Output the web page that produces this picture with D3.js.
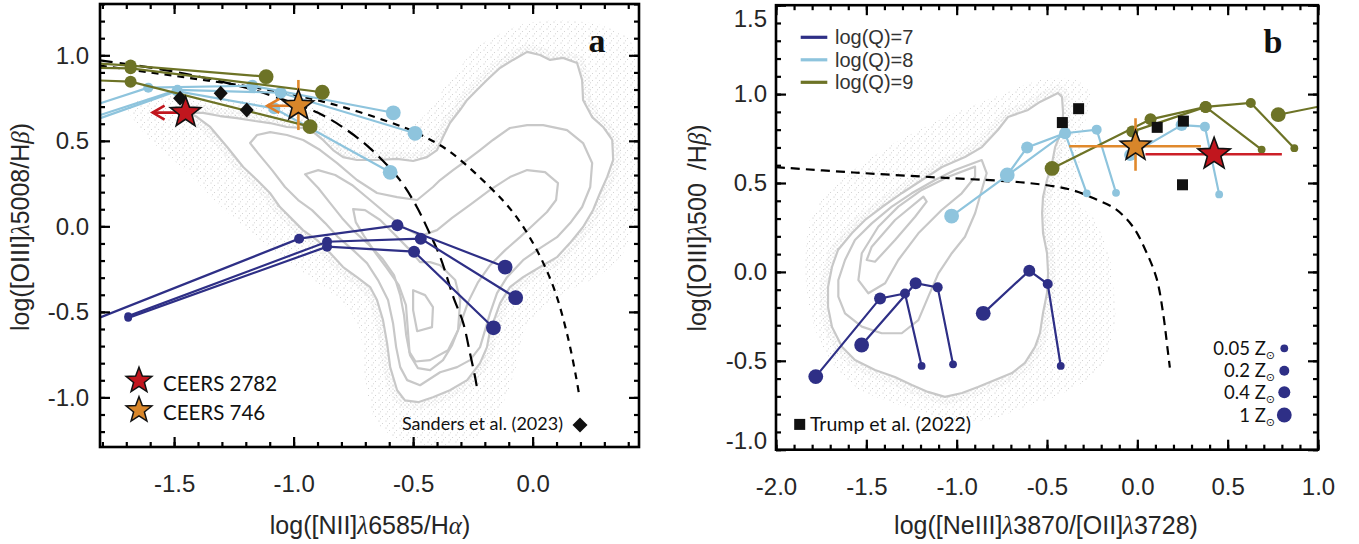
<!DOCTYPE html>
<html>
<head>
<meta charset="utf-8">
<script src="https://cdn.jsdelivr.net/npm/d3@7/dist/d3.min.js"></script>
<style>
html,body{margin:0;padding:0;background:#fff;}
svg{display:block;}
</style>
</head>
<body>
<svg id="chart" width="1359" height="544"></svg>
<script>
// ======================= DATA =======================
// ---- panel a : BPT diagram ----
const bptXTicks = [-1.5, -1.0, -0.5, 0.0];
const bptXTickLabels = ["-1.5", "-1.0", "-0.5", "0.0"];
const bptYTicks = [-1.0, -0.5, 0.0, 0.5, 1.0];
const bptYTickLabels = ["-1.0", "-0.5", "0.0", "0.5", "1.0"];

// model grids: [x, y, metallicity index (0:0.05,1:0.2,2:0.4,3:1 Zsun)]
const bptQ7 = [
  [[-1.95,-0.61,0],[-0.977,-0.072,1],[-0.566,0.006,2],[-0.115,-0.238,3]],
  [[-1.692,-0.525,0],[-0.86,-0.09,1],[-0.468,-0.072,2],[-0.071,-0.417,3]],
  [[-1.692,-0.535,0],[-0.86,-0.119,1],[-0.496,-0.148,2],[-0.164,-0.593,3]]
];
const bptQ8 = [
  [[-1.95,0.655,0],[-1.608,0.811,1],[-1.173,0.822,2],[-0.583,0.664,3]],
  [[-1.95,0.587,0],[-1.486,0.798,1],[-1.054,0.781,2],[-0.492,0.544,3]],
  [[-1.95,0.563,0],[-1.49,0.79,1],[-1.081,0.690,2],[-0.596,0.316,3]]
];
const bptQ9 = [
  [[-1.95,0.965,1],[-1.682,0.94,2],[-1.115,0.875,3]],
  [[-1.95,0.93,1],[-1.682,0.924,2],[-0.880,0.784,3]],
  [[-1.95,0.86,1],[-1.682,0.846,2],[-0.931,0.583,3]]
];
const bptSanders = [[-1.475,0.749],[-1.305,0.778],[-1.196,0.680]];
const bptStars = [[-1.452,0.665],[-0.98,0.705]];          // CEERS 2782, CEERS 746
const bptUpperLimitX = [-1.59, -1.11];                       // arrow tips
const bptYErr746 = [0.563, 0.856];
const bptKauffmann = [[-1.81,0.97],[-1.5,0.905],[-1.2,0.81],[-1.0,0.72],[-0.9,0.665],[-0.8,0.585],[-0.68,0.456],[-0.555,0.27],[-0.485,0.115],[-0.437,-0.022],[-0.387,-0.178],[-0.332,-0.412],[-0.29,-0.567],[-0.262,-0.743],[-0.241,-0.879],[-0.231,-0.957]];
const bptKewley = [[-1.81,0.94],[-1.6,0.90],[-1.4,0.86],[-1.2,0.82],[-1.0,0.77],[-0.8,0.70],[-0.6,0.61],[-0.475,0.54],[-0.35,0.44],[-0.183,0.235],[-0.073,0.065],[0.018,-0.14],[0.091,-0.37],[0.146,-0.64],[0.183,-0.89],[0.195,-0.99]];
const bptCloud = [[-1.693,0.680],[-1.643,0.738],[-1.517,0.768],[-1.266,0.738],[-0.973,0.709],[-0.722,0.622],[-0.554,0.563],[-0.450,0.651],[-0.346,0.856],[-0.220,1.060],[-0.053,1.177],[0.115,1.206],[0.282,1.177],[0.408,1.089],[0.441,0.856],[0.441,0.154],[0.387,-0.138],[0.282,-0.285],[0.156,-0.373],[0.052,-0.461],[-0.032,-0.607],[-0.073,-0.841],[-0.136,-1.075],[-0.220,-1.221],[-0.388,-1.280],[-0.555,-1.250],[-0.659,-1.133],[-0.701,-0.899],[-0.722,-0.607],[-0.806,-0.431],[-0.973,-0.256],[-1.140,-0.081],[-1.308,0.124],[-1.454,0.329],[-1.600,0.505]];
const bptContour1 = [[-1.433,0.663],[-1.379,0.663],[-1.308,0.645],[-1.237,0.633],[-1.162,0.616],[-1.099,0.604],[-1.028,0.581],[-0.961,0.575],[-0.919,0.552],[-0.877,0.505],[-0.835,0.446],[-0.793,0.405],[-0.735,0.388],[-0.651,0.388],[-0.567,0.394],[-0.500,0.382],[-0.442,0.405],[-0.400,0.446],[-0.375,0.522],[-0.346,0.604],[-0.304,0.680],[-0.274,0.739],[-0.233,0.797],[-0.191,0.856],[-0.137,0.926],[-0.082,0.973],[-0.023,1.020],[0.031,1.002],[0.073,0.973],[0.127,0.985],[0.186,0.955],[0.207,0.856],[0.211,0.739],[0.249,0.639],[0.295,0.581],[0.333,0.505],[0.337,0.388],[0.312,0.289],[0.282,0.195],[0.253,0.096],[0.211,-0.004],[0.156,-0.098],[0.102,-0.180],[0.031,-0.238],[-0.040,-0.297],[-0.095,-0.355],[-0.136,-0.449],[-0.157,-0.531],[-0.178,-0.607],[-0.191,-0.706],[-0.220,-0.800],[-0.274,-0.899],[-0.346,-0.958],[-0.417,-0.999],[-0.479,-1.028],[-0.534,-1.017],[-0.567,-0.958],[-0.596,-0.823],[-0.609,-0.683],[-0.626,-0.548],[-0.651,-0.431],[-0.680,-0.355],[-0.735,-0.297],[-0.793,-0.238],[-0.847,-0.156],[-0.902,-0.080],[-0.961,-0.022],[-1.015,0.054],[-1.057,0.113],[-1.099,0.195],[-1.153,0.271],[-1.211,0.347],[-1.278,0.464],[-1.349,0.581],[-1.404,0.639]];
const bptContour2 = [[-1.182,0.487],[-1.153,0.534],[-1.098,0.551],[-1.028,0.534],[-0.960,0.505],[-0.889,0.446],[-0.818,0.370],[-0.735,0.271],[-0.651,0.195],[-0.567,0.171],[-0.483,0.154],[-0.417,0.230],[-0.387,0.271],[-0.333,0.329],[-0.274,0.388],[-0.220,0.446],[-0.166,0.505],[-0.095,0.575],[-0.023,0.592],[0.044,0.592],[0.144,0.563],[0.211,0.487],[0.249,0.370],[0.241,0.230],[0.207,0.113],[0.157,0.019],[0.102,-0.063],[0.031,-0.127],[-0.040,-0.198],[-0.107,-0.297],[-0.149,-0.390],[-0.178,-0.507],[-0.199,-0.607],[-0.220,-0.706],[-0.262,-0.782],[-0.316,-0.823],[-0.387,-0.853],[-0.471,-0.929],[-0.525,-0.899],[-0.554,-0.823],[-0.571,-0.706],[-0.584,-0.566],[-0.605,-0.431],[-0.647,-0.314],[-0.693,-0.215],[-0.751,-0.139],[-0.814,-0.063],[-0.868,0.019],[-0.923,0.095],[-0.981,0.154],[-1.036,0.230],[-1.090,0.329],[-1.149,0.428]];
const bptContour3 = [[-0.952,0.305],[-0.897,0.329],[-0.826,0.300],[-0.756,0.242],[-0.680,0.154],[-0.605,0.066],[-0.534,-0.010],[-0.471,-0.057],[-0.400,-0.022],[-0.337,0.049],[-0.262,0.125],[-0.178,0.213],[-0.095,0.288],[-0.023,0.329],[0.052,0.317],[0.106,0.253],[0.098,0.154],[0.060,0.084],[0.002,0.008],[-0.053,-0.063],[-0.115,-0.139],[-0.178,-0.227],[-0.228,-0.326],[-0.270,-0.443],[-0.304,-0.577],[-0.337,-0.694],[-0.375,-0.782],[-0.429,-0.841],[-0.480,-0.829],[-0.513,-0.753],[-0.529,-0.636],[-0.538,-0.519],[-0.554,-0.402],[-0.580,-0.285],[-0.630,-0.186],[-0.684,-0.109],[-0.743,-0.034],[-0.797,0.048],[-0.847,0.136],[-0.897,0.224]];
const bptContour4 = [[-0.751,0.101],[-0.701,0.095],[-0.638,0.037],[-0.575,-0.051],[-0.513,-0.139],[-0.471,-0.209],[-0.429,-0.209],[-0.387,-0.227],[-0.324,-0.314],[-0.303,-0.431],[-0.312,-0.607],[-0.354,-0.724],[-0.429,-0.782],[-0.490,-0.790],[-0.515,-0.735],[-0.522,-0.607],[-0.530,-0.461],[-0.560,-0.344],[-0.610,-0.244],[-0.660,-0.151],[-0.705,-0.057],[-0.740,0.025]];
const bptContour5 = [[-0.500,-0.373],[-0.450,-0.402],[-0.417,-0.472],[-0.421,-0.589],[-0.483,-0.613],[-0.500,-0.490]];

// ---- panel b : OHNO diagram ----
const o3XTicks = [-2.0, -1.5, -1.0, -0.5, 0.0, 0.5, 1.0];
const o3XTickLabels = ["-2.0", "-1.5", "-1.0", "-0.5", "0.0", "0.5", "1.0"];
const o3YTicks = [-1.0, -0.5, 0.0, 0.5, 1.0, 1.5];
const o3YTickLabels = ["-1.0", "-0.5", "0.0", "0.5", "1.0", "1.5"];
const o3Q7 = [
  [[-1.780,-0.589,3],[-1.424,-0.149,2],[-1.286,-0.121,1],[-1.194,-0.529,0]],
  [[-1.526,-0.411,3],[-1.227,-0.064,2],[-1.105,-0.087,1],[-1.020,-0.520,0]],
  [[-0.853,-0.233,3],[-0.598,0.007,2],[-0.496,-0.068,1],[-0.424,-0.529,0]]
];
const o3Q8 = [
  [[-1.028,0.314,3],[-0.40,0.78,2],[-0.225,0.80,1],[-0.118,0.445,0]],
  [[-0.72,0.545,3],[-0.61,0.70,2],[-0.40,0.78,1],[-0.28,0.442,0]],
  [[-0.04,0.657,2],[0.245,0.826,2],[0.374,0.817,1],[0.453,0.436,0]]
];
const o3Q9 = [
  [[-0.472,0.582,3],[0.073,0.858,2],[0.378,0.928,2],[0.688,0.688,0]],
  [[-0.028,0.789,2],[0.378,0.928,2],[0.628,0.95,1],[0.869,0.696,0]],
  [[0.78,0.884,3],[1.3,0.99,2]]
];
const o3Trump = [[-0.415,0.84],[-0.325,0.918],[0.11,0.813],[0.255,0.848],[0.25,0.49]];
const o3Stars = [[0.425,0.662],[-0.01,0.707]];              // CEERS 2782, CEERS 746
const o3XErr2782 = [0.045, 0.80];
const o3XErr746 = [-0.377, 0.352];
const o3YErr746 = [0.569, 0.864];
const o3Demarc = [[-2.0,0.589],[-1.57,0.559],[-1.086,0.530],[-0.604,0.50],[-0.363,0.461],[-0.218,0.403],[-0.121,0.354],[-0.025,0.255],[0.047,0.118],[0.107,-0.038],[0.143,-0.235],[0.167,-0.43],[0.18,-0.538]];
const o3Cloud = [[-0.345,1.079],[-0.262,0.995],[-0.306,0.742],[-0.328,0.404],[-0.234,0.292],[-0.151,0.067],[-0.123,-0.270],[-0.206,-0.551],[-0.428,-0.692],[-0.594,-0.748],[-0.815,-0.832],[-1.037,-0.832],[-1.313,-0.748],[-1.535,-0.664],[-1.701,-0.495],[-1.800,-0.270],[-1.839,0.011],[-1.812,0.292],[-1.701,0.461],[-1.535,0.601],[-1.313,0.742],[-1.037,0.882],[-0.760,0.995],[-0.539,1.079]];
const o3Contour1 = [[-0.439,1.006],[-0.539,0.956],[-0.605,0.911],[-0.716,0.871],[-0.772,0.798],[-0.860,0.702],[-0.954,0.646],[-1.081,0.590],[-1.192,0.517],[-1.302,0.444],[-1.413,0.365],[-1.507,0.292],[-1.579,0.219],[-1.657,0.123],[-1.690,0.028],[-1.712,-0.085],[-1.712,-0.197],[-1.690,-0.310],[-1.634,-0.422],[-1.563,-0.495],[-1.452,-0.552],[-1.342,-0.591],[-1.248,-0.636],[-1.159,-0.675],[-1.065,-0.703],[-0.970,-0.681],[-0.882,-0.647],[-0.788,-0.608],[-0.694,-0.569],[-0.622,-0.512],[-0.566,-0.422],[-0.539,-0.344],[-0.522,-0.231],[-0.500,-0.119],[-0.494,-0.006],[-0.500,0.106],[-0.522,0.219],[-0.527,0.331],[-0.522,0.421],[-0.500,0.517],[-0.472,0.612],[-0.455,0.702],[-0.417,0.798],[-0.411,0.894],[-0.417,0.984]];
const o3Contour2 = [[-0.861,0.629],[-1.009,0.573],[-1.120,0.517],[-1.249,0.442],[-1.359,0.367],[-1.470,0.273],[-1.563,0.179],[-1.618,0.067],[-1.655,-0.046],[-1.655,-0.139],[-1.618,-0.233],[-1.525,-0.308],[-1.415,-0.345],[-1.304,-0.345],[-1.212,-0.271],[-1.157,-0.139],[-1.101,-0.008],[-1.027,0.105],[-0.954,0.198],[-0.898,0.330],[-0.861,0.461],[-0.834,0.555]];
const o3Contour3 = [[-0.898,0.592],[-1.046,0.535],[-1.193,0.461],[-1.323,0.367],[-1.434,0.254],[-1.525,0.105],[-1.544,-0.046],[-1.489,-0.120],[-1.396,-0.064],[-1.323,0.067],[-1.212,0.217],[-1.083,0.348],[-0.972,0.442],[-0.898,0.535]];
const o3Contour4 = [[-1.184,0.423],[-1.341,0.292],[-1.470,0.142],[-1.498,0.067],[-1.452,0.057],[-1.341,0.179],[-1.230,0.310],[-1.166,0.395]];

// legends
const qLegendLabels = ["log(Q)=7", "log(Q)=8", "log(Q)=9"];
const zLegendLabels = ["0.05 Z", "0.2 Z", "0.4 Z", "1 Z"];
const starLegendLabels = ["CEERS 2782", "CEERS 746"];

// ======================= STYLE =======================
const C_NAVY = "#2e2f86", C_CYAN = "#8ec4dd", C_OLIVE = "#6d7326";
const C_RED = "#c1161e", C_ORANGE = "#d8862a", C_ORANGE_BAR = "#e0892c", C_RED_BAR = "#cc1f27";
const C_CONT = "#c8c8c8";
const zR = [3.9, 5.0, 6.0, 7.4];

const svg = d3.select("#chart");
const defs = svg.append("defs");
const pS = defs.append("pattern").attr("id","dotS").attr("width",7).attr("height",7).attr("patternUnits","userSpaceOnUse");
pS.append("circle").attr("cx",1).attr("cy",1).attr("r",0.55).attr("fill","#bdbdbd");
pS.append("circle").attr("cx",4.5).attr("cy",3.5).attr("r",0.5).attr("fill","#c6c6c6");
pS.append("circle").attr("cx",2.5).attr("cy",5.8).attr("r",0.5).attr("fill","#c8c8c8");
const pD = defs.append("pattern").attr("id","dotD").attr("width",4).attr("height",4).attr("patternUnits","userSpaceOnUse");
pD.append("circle").attr("cx",1).attr("cy",1).attr("r",0.55).attr("fill","#bcbcbc");
pD.append("circle").attr("cx",3).attr("cy",3).attr("r",0.5).attr("fill","#c8c8c8");

function starPath(R, ratio) {
  const pts = [];
  for (let k = 0; k < 10; k++) {
    const a = -Math.PI/2 + k*Math.PI/5, r = (k % 2) ? R*ratio : R;
    pts.push([r*Math.cos(a), r*Math.sin(a)]);
  }
  return "M" + pts.map(p => p[0].toFixed(2)+","+p[1].toFixed(2)).join("L") + "Z";
}

function makePanel(id, xDomain, xRange, yDomain, yRange) {
  const x = d3.scaleLinear().domain(xDomain).range(xRange);
  const y = d3.scaleLinear().domain(yDomain).range(yRange);
  defs.append("clipPath").attr("id", id+"clip").append("rect")
    .attr("x", xRange[0]).attr("y", yRange[1]).attr("width", xRange[1]-xRange[0]).attr("height", yRange[0]-yRange[1]);
  const g = svg.append("g");
  const plot = g.append("g").attr("clip-path", `url(#${id}clip)`);
  return {x, y, g, plot};
}

function drawCloud(P, cloud, contours) {
  const {x, y, plot} = P;
  const closed = d3.line().x(d=>x(d[0])).y(d=>y(d[1])).curve(d3.curveCardinalClosed.tension(0.3));
  const closedL = d3.line().x(d=>x(d[0])).y(d=>y(d[1])).curve(d3.curveLinearClosed);
  plot.append("path").attr("d", closed(cloud)).attr("fill","url(#dotS)");
  plot.append("path").attr("d", closedL(contours[0])).attr("fill","none").attr("stroke","url(#dotD)").attr("stroke-width",16).attr("stroke-linejoin","round");
  plot.append("path").attr("d", closedL(contours[0])).attr("fill","#fff");
  contours.forEach(c => plot.append("path").attr("d", closedL(c)).attr("fill","none")
    .attr("stroke", C_CONT).attr("stroke-width", 2.2).attr("stroke-linejoin","round"));
}

function drawDashed(P, pts, dash) {
  const {x, y, plot} = P;
  const l = d3.line().x(d=>x(d[0])).y(d=>y(d[1])).curve(d3.curveCatmullRom);
  plot.append("path").attr("d", l(pts)).attr("fill","none").attr("stroke","#000")
    .attr("stroke-width", 2.2).attr("stroke-dasharray", dash);
}

function drawModels(P, lines, color) {
  const {x, y, plot} = P;
  const l = d3.line().x(d=>x(d[0])).y(d=>y(d[1]));
  const g = plot.append("g");
  lines.forEach(ln => {
    g.append("path").attr("d", l(ln)).attr("fill","none").attr("stroke", color).attr("stroke-width", 2.2);
  });
  lines.forEach(ln => {
    g.selectAll(null).data(ln).enter().append("circle")
      .attr("cx", d=>x(d[0])).attr("cy", d=>y(d[1])).attr("r", d=>zR[d[2]]).attr("fill", color);
  });
}

function drawAxes(P, xMaj, xLab, yMaj, yLab, xMin, yMin, yLabPad, yShift) {
  const {x, y, g} = P;
  const [xl, xr] = x.range(), [yb, yt] = y.range();
  const style = s => {
    s.select(".domain").remove();
    s.selectAll(".tick line").attr("stroke","#000").attr("stroke-width",2.2);
    s.attr("font-family","Liberation Sans, Arial, sans-serif").attr("font-size",24);
    s.selectAll(".tick text").attr("fill","#262626");
  };
  const none = () => "";
  // minor
  g.append("g").attr("transform",`translate(0,${yb})`).call(d3.axisBottom(x).tickValues(xMin).tickSize(-5).tickFormat(none)).call(style);
  g.append("g").attr("transform",`translate(0,${yt})`).call(d3.axisTop(x).tickValues(xMin).tickSize(-5).tickFormat(none)).call(style);
  g.append("g").attr("transform",`translate(${xl},0)`).call(d3.axisLeft(y).tickValues(yMin).tickSize(-5).tickFormat(none)).call(style);
  g.append("g").attr("transform",`translate(${xr},0)`).call(d3.axisRight(y).tickValues(yMin).tickSize(-5).tickFormat(none)).call(style);
  // major
  g.append("g").attr("transform",`translate(0,${yb})`)
    .call(d3.axisBottom(x).tickValues(xMaj).tickSize(-10).tickPadding(28).tickFormat(d => xLab[xMaj.indexOf(d)])).call(style);
  g.append("g").attr("transform",`translate(0,${yt})`).call(d3.axisTop(x).tickValues(xMaj).tickSize(-10).tickFormat(none)).call(style);
  const ly = g.append("g").attr("transform",`translate(${xl},0)`)
    .call(d3.axisLeft(y).tickValues(yMaj).tickSize(-10).tickPadding(yLabPad).tickFormat(d => yLab[yMaj.indexOf(d)])).call(style);
  if (yShift) ly.selectAll(".tick text").attr("y", d => yShift[yMaj.indexOf(d)] || 0);
  g.append("g").attr("transform",`translate(${xr},0)`).call(d3.axisRight(y).tickValues(yMaj).tickSize(-10).tickFormat(none)).call(style);
  g.append("rect").attr("x", xl).attr("y", yt).attr("width", xr-xl).attr("height", yb-yt)
    .attr("fill","none").attr("stroke","#000").attr("stroke-width",2.6);
}

const minorRange = (a, b) => d3.range(Math.ceil(a*10), Math.floor(b*10)+1).map(v => v/10);

// ======================= PANEL A =======================
const A = makePanel("a", [-1.81, 0.445], [100, 639], [-1.29, 1.30], [447, 4]);
drawCloud(A, bptCloud, [bptContour1, bptContour2, bptContour3, bptContour4, bptContour5]);
drawDashed(A, bptKauffmann, "13,7");
drawDashed(A, bptKewley, "7,6");
drawModels(A, bptQ7, C_NAVY);
drawModels(A, bptQ8, C_CYAN);
drawModels(A, bptQ9, C_OLIVE);
// Sanders diamonds
A.plot.selectAll(null).data(bptSanders).enter().append("path")
  .attr("d","M0,-7.5L7,0L0,7.5L-7,0Z").attr("fill","#111")
  .attr("transform", d => `translate(${A.x(d[0])},${A.y(d[1])})`);
// upper-limit arrows and error bar
[[bptStars[0], bptUpperLimitX[0], C_RED], [bptStars[1], bptUpperLimitX[1], "#e07d26"]].forEach(([s, tip, col]) => {
  const sx = A.x(s[0]), sy = A.y(s[1]), tx = A.x(tip);
  A.plot.append("line").attr("x1", sx).attr("x2", tx).attr("y1", sy).attr("y2", sy).attr("stroke", col).attr("stroke-width", 2.6);
  A.plot.append("path").attr("d", `M${tx+12},${sy-7}L${tx},${sy}L${tx+12},${sy+7}`).attr("fill","none").attr("stroke", col).attr("stroke-width", 2.6);
});
A.plot.append("line").attr("x1", A.x(bptStars[1][0])).attr("x2", A.x(bptStars[1][0]))
  .attr("y1", A.y(bptYErr746[0])).attr("y2", A.y(bptYErr746[1])).attr("stroke", C_ORANGE_BAR).attr("stroke-width", 2.6);
A.plot.selectAll(null).data(bptStars).enter().append("path")
  .attr("d", starPath(16, 0.42)).attr("fill", (d,i) => i ? C_ORANGE : C_RED).attr("stroke","#111").attr("stroke-width",1.6)
  .attr("transform", d => `translate(${A.x(d[0])},${A.y(d[1])})`);
drawAxes(A, bptXTicks, bptXTickLabels, bptYTicks, bptYTickLabels, minorRange(-1.81,0.445), minorRange(-1.29,1.30), 11, null);

// legend a
starLegendLabels.forEach((t, i) => {
  const yy = 380.7 + i*29.5;
  A.g.append("path").attr("d", starPath(13.5, 0.42)).attr("fill", i ? C_ORANGE : C_RED).attr("stroke","#111").attr("stroke-width",1.5)
    .attr("transform", `translate(139,${yy})`);
  A.g.append("text").attr("x", 163).attr("y", yy + 10).text(t)
    .attr("font-family","Lato, sans-serif").attr("font-size",20.5).attr("fill","#111");
});
A.g.append("text").attr("x", 563).attr("y", 430).attr("text-anchor","end").text("Sanders et al. (2023)")
  .attr("font-family","Lato, sans-serif").attr("font-size",18).attr("fill","#111");
A.g.append("path").attr("d","M0,-7.5L7.5,0L0,7.5L-7.5,0Z").attr("fill","#111").attr("transform","translate(580,425)");
A.g.append("text").attr("x", 597).attr("y", 52).attr("text-anchor","middle").text("a")
  .attr("font-family","Liberation Serif, serif").attr("font-weight","bold").attr("font-size",34).attr("fill","#111");

// axis titles a
const titleFont = "Liberation Sans, Arial, sans-serif";
function greek(sel, parts) {
  parts.forEach(p => {
    const ts = sel.append("tspan").text(p[0]);
    if (p[1]) ts.attr("font-style","italic").attr("font-family","Liberation Serif, serif");
    if (p[2]) ts.attr("dx", p[2]);
  });
}
const ax = svg.append("text").attr("x", 370).attr("y", 534).attr("text-anchor","middle")
  .attr("font-family", titleFont).attr("font-size", 25).attr("fill","#262626");
greek(ax, [["log([NII]"],["λ",1],["6585/H"],["α",1],[")"]]);
const ay = svg.append("text").attr("transform","translate(29,227) rotate(-90)").attr("text-anchor","middle")
  .attr("font-family", titleFont).attr("font-size", 25).attr("fill","#262626");
greek(ay, [["log([OIII]"],["λ",1],["5008/H"],["β",1],[")"]]);

// ======================= PANEL B =======================
const B = makePanel("b", [-2.0, 1.0], [776, 1318], [-1.0, 1.5], [449.7, 5.2]);
drawCloud(B, o3Cloud, [o3Contour1, o3Contour2, o3Contour3, o3Contour4]);
drawDashed(B, o3Demarc, "9,6");
drawModels(B, o3Q7, C_NAVY);
drawModels(B, o3Q8, C_CYAN);
drawModels(B, o3Q9, C_OLIVE);
B.plot.selectAll(null).data(o3Trump).enter().append("rect")
  .attr("x", d => B.x(d[0]) - 5.5).attr("y", d => B.y(d[1]) - 5.5).attr("width", 11).attr("height", 11).attr("fill","#111");
// error bars
const eb = (x1,x2,y1,y2,col) => B.plot.append("line").attr("x1",x1).attr("x2",x2).attr("y1",y1).attr("y2",y2).attr("stroke",col).attr("stroke-width",2.6);
eb(B.x(o3XErr2782[0]), B.x(o3XErr2782[1]), B.y(o3Stars[0][1]), B.y(o3Stars[0][1]), C_RED_BAR);
eb(B.x(o3XErr746[0]), B.x(o3XErr746[1]), B.y(o3Stars[1][1]), B.y(o3Stars[1][1]), C_ORANGE_BAR);
eb(B.x(o3Stars[1][0]), B.x(o3Stars[1][0]), B.y(o3YErr746[0]), B.y(o3YErr746[1]), C_ORANGE_BAR);
B.plot.selectAll(null).data(o3Stars).enter().append("path")
  .attr("d", (d,i) => starPath(i ? 16 : 17, 0.42)).attr("fill", (d,i) => i ? C_ORANGE : C_RED).attr("stroke","#111").attr("stroke-width",1.6)
  .attr("transform", d => `translate(${B.x(d[0])},${B.y(d[1])})`);
drawAxes(B, o3XTicks, o3XTickLabels, o3YTicks, o3YTickLabels, minorRange(-2,1), minorRange(-1,1.5), 9, [-9,0,0,0,0,14]);

// legend b: Q
[C_NAVY, C_CYAN, C_OLIVE].forEach((col, i) => {
  const yy = 37.3 + i*22.5;
  B.g.append("line").attr("x1", 800.7).attr("x2", 827.3).attr("y1", yy).attr("y2", yy).attr("stroke", col).attr("stroke-width", 3.2);
  B.g.append("text").attr("x", 835).attr("y", yy + 7).text(qLegendLabels[i])
    .attr("font-family", titleFont).attr("font-size", 20).attr("fill","#333");
});
// legend b: metallicity
zLegendLabels.forEach((t, i) => {
  const yy = [348.3, 370.7, 392.3, 415][i];
  B.g.append("circle").attr("cx", 1284.3).attr("cy", yy).attr("r", zR[i]).attr("fill", C_NAVY);
  const tx = B.g.append("text").attr("x", 1275).attr("y", yy + 6.5).attr("text-anchor","end")
    .attr("font-family","Lato, sans-serif").attr("font-size",18.5).attr("fill","#111");
  tx.append("tspan").text(t);
  tx.append("tspan").text("⊙").attr("font-size",11).attr("dy",4).attr("font-family","DejaVu Sans, sans-serif");
});
B.g.append("rect").attr("x", 794.2).attr("y", 418.9).attr("width", 11).attr("height", 11).attr("fill","#111");
B.g.append("text").attr("x", 810).attr("y", 431).text("Trump et al. (2022)")
  .attr("font-family","Lato, sans-serif").attr("font-size",19.5).attr("fill","#111");
B.g.append("text").attr("x", 1273).attr("y", 53).attr("text-anchor","middle").text("b")
  .attr("font-family","Liberation Serif, serif").attr("font-weight","bold").attr("font-size",34).attr("fill","#111");

const bx = svg.append("text").attr("x", 1046).attr("y", 534).attr("text-anchor","middle")
  .attr("font-family", titleFont).attr("font-size", 25).attr("fill","#262626");
greek(bx, [["log([NeIII]"],["λ",1],["3870/[OII]"],["λ",1],["3728)"]]);
const by = svg.append("text").attr("transform","translate(706,228) rotate(-90)").attr("text-anchor","middle")
  .attr("font-family", titleFont).attr("font-size", 25).attr("fill","#262626");
greek(by, [["log([OIII]"],["λ",1],["500"],["/H",0,13],["β",1],[")"]]);
</script>
</body>
</html>
